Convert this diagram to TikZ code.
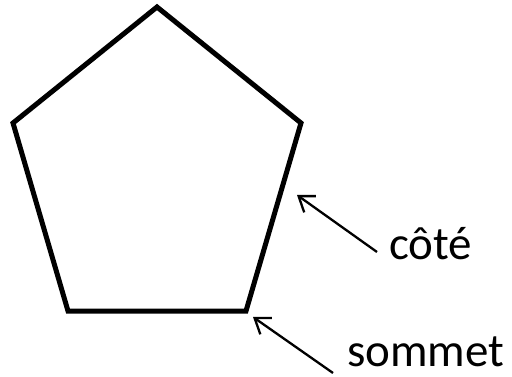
\documentclass[tikz,border=0pt]{standalone}
\usepackage{fontspec}
\setmainfont{Carlito}
\usetikzlibrary{arrows.meta}

\tikzset{
  edge/.style={line width=5pt, line join=miter},
  pointer/.style={line width=2.3pt, -{Straight Barb[length=14pt,width=20pt]}},
  label/.style={inner sep=0pt, anchor=base west, font=\fontsize{47}{50}\selectfont}
}

\begin{document}
\begin{tikzpicture}[x=1pt, y=-1pt]
        \useasboundingbox (0,0) rectangle (512,377);
        % Draw the pentagon
        \coordinate (top) at (157,7);
        \coordinate (right) at (301,123);
        \coordinate (br) at (246,311);
        \coordinate (bl) at (68,311);
        \coordinate (left) at (13,123);
        \draw[edge] (top) -- (right) -- (br) -- (bl) -- (left) -- cycle;
        % Labels and their arrows
        \node[label] (cote) at (389,259) {côté};
        \node[label] (sommet) at (347,366) {sommet};
        \coordinate (cotetip) at (297,195);
        \coordinate (sommettip) at (253,317);
        \draw[pointer] ([shift={(-12,-7)}]cote.base west) -- (cotetip);
        \draw[pointer] ([shift={(-14,7)}]sommet.base west) -- (sommettip);
\end{tikzpicture}
\end{document}
